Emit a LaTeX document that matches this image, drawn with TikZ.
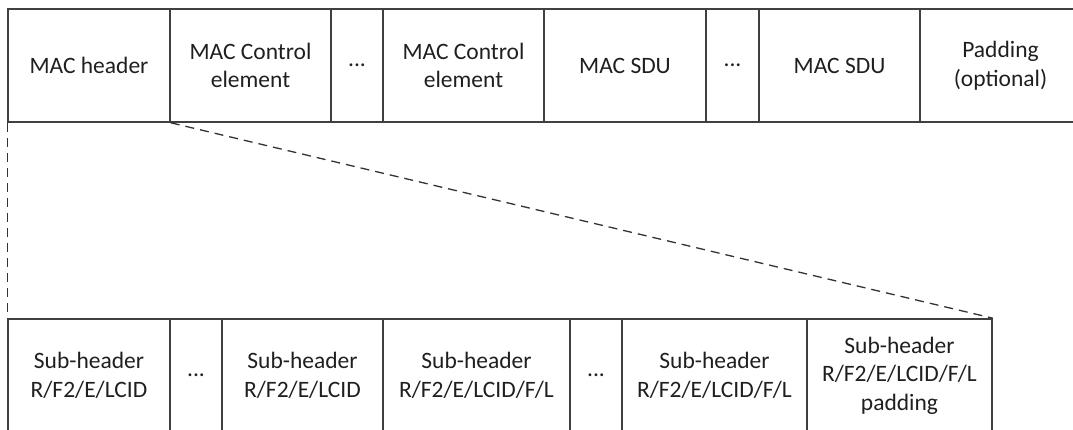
\documentclass[tikz,border=0pt]{standalone}
\usepackage{fontspec}
\setmainfont{Carlito}
\begin{document}
\begin{tikzpicture}[x=1pt,y=-1pt,
  cell/.style={draw=black!75, line width=1.6pt, inner sep=0pt, minimum height=113pt,
    align=center, text=black!88, font=\fontsize{23.5}{28.5}\selectfont},
  zoomline/.style={draw=black!80, line width=1.3pt, dash pattern=on 9pt off 6pt}]
\useasboundingbox (0,0) rectangle (1073,430);
\begin{scope}
\clip (0,0) rectangle (1073,430);
% top row
\node[cell, minimum width=162pt] (mh) at (89,65.5) {MAC header};
\node[cell, minimum width=161pt] (ce1) at (250.5,65.5) {MAC Control\\element};
\node[cell, minimum width=52pt] (d1) at (357,65.5) {...};
\node[cell, minimum width=161pt] (ce2) at (463.5,65.5) {MAC Control\\element};
\node[cell, minimum width=162pt] (sdu1) at (625,65.5) {MAC SDU};
\node[cell, minimum width=53pt] (d2) at (732.5,65.5) {...};
\node[cell, minimum width=161pt] (sdu2) at (839.5,65.5) {MAC SDU};
\node[cell, minimum width=161pt] (pad) at (1000.5,65.5) {Padding\\(optional)};
% bottom row
\node[cell, minimum width=162pt] (sh1) at (89,375.5) {Sub-header\\R/F2/E/LCID};
\node[cell, minimum width=52pt] (d3) at (196,375.5) {...};
\node[cell, minimum width=161pt] (sh2) at (302.5,375.5) {Sub-header\\R/F2/E/LCID};
\node[cell, minimum width=187pt] (sh3) at (476.5,375.5) {Sub-header\\R/F2/E/LCID/F/L};
\node[cell, minimum width=52pt] (d4) at (596,375.5) {...};
\node[cell, minimum width=185pt] (sh4) at (714.5,375.5) {Sub-header\\R/F2/E/LCID/F/L};
\node[cell, minimum width=185pt] (sh5) at (899.5,375.5) {Sub-header\\R/F2/E/LCID/F/L\\padding};
% zoom lines
\draw[zoomline] (mh.south west) -- (sh1.north west);
\draw[zoomline] (mh.south east) -- (sh5.north east);
\end{scope}
\end{tikzpicture}
\end{document}
